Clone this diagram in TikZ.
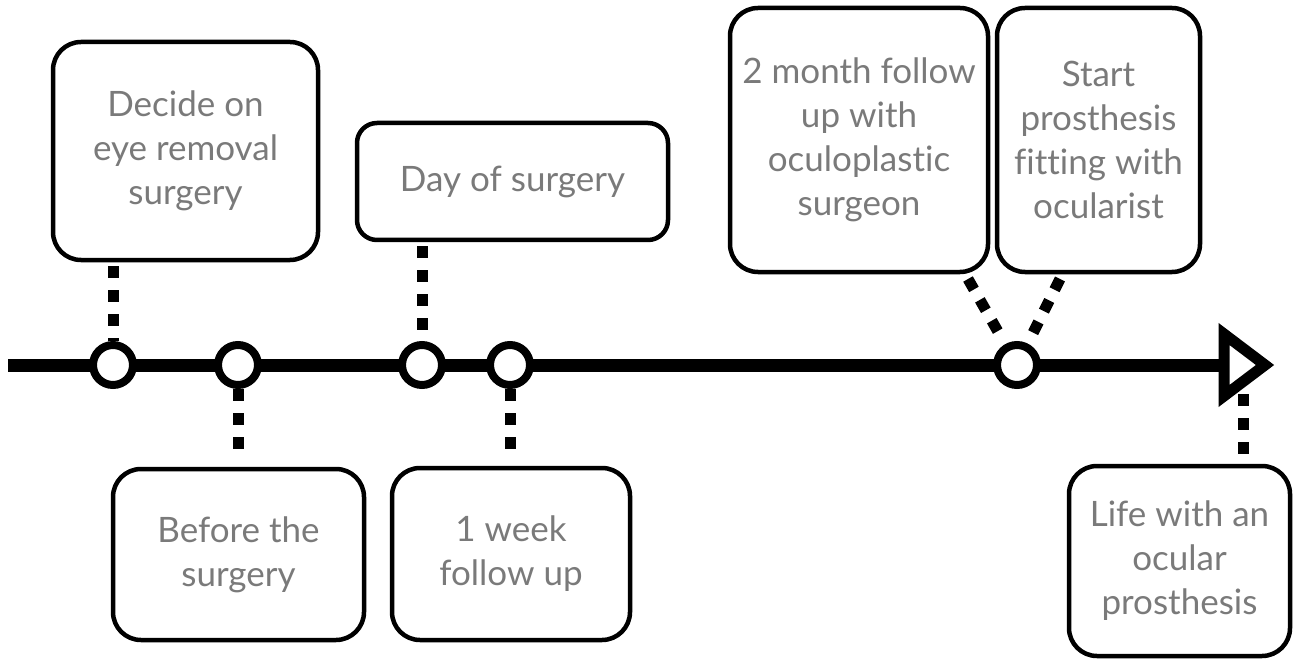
\documentclass[tikz,border=0pt]{standalone}
\usepackage{fontspec}
\setmainfont{Lato}[Ligatures=NoCommon]
\definecolor{txt}{RGB}{122,122,122}
\begin{document}
\begin{tikzpicture}[x=1pt,y=-1pt,
  box/.style={draw=black,line width=4.5pt,rounded corners=28pt,align=center,
    text=txt,font=\fontsize{35}{44}\selectfont,inner sep=0pt},
  dot/.style={circle,draw=black,line width=8pt,fill=white,minimum size=40pt,inner sep=0pt},
  conn/.style={line width=11pt,dash pattern=on 12pt off 12pt}]
\useasboundingbox (0,0) rectangle (1297,660);
% boxes
\node[box,minimum width=265pt,minimum height=218pt] (A) at (185.5,151) {Decide on\\eye removal\\surgery};
\node[box,minimum width=251pt,minimum height=171pt] (B) at (238.5,554.5) {Before the\\surgery};
\node[box,minimum width=311pt,minimum height=117pt,rounded corners=20pt] (C) at (512.5,181.5) {Day of surgery};
\node[box,minimum width=238pt,minimum height=172pt] (D) at (511,554) {1 week\\follow up};
\node[box,minimum width=258pt,minimum height=264pt] (E) at (859,140) {2 month follow\\up with\\oculoplastic\\surgeon};
\node[box,minimum width=203pt,minimum height=264pt] (F) at (1098.5,140) {Start\\prosthesis\\fitting with\\ocularist};
\node[box,minimum width=221pt,minimum height=190pt] (G) at (1179.5,561) {Life with an\\ocular\\prosthesis};
% timeline
\coordinate (start) at (8,365);
\coordinate (abase) at (1224,365);
\coordinate (atop) at (1224,334);
\coordinate (abot) at (1224,396);
\coordinate (atip) at (1265,365);
\draw[line width=13pt] (start) -- (abase);
\draw[line width=11pt,miter limit=10,line join=miter,fill=white] (atop) -- (atip) -- (abot) -- cycle;
% event dots
\node[dot] (c1) at (113,365) {};
\node[dot] (c2) at (238,365) {};
\node[dot] (c3) at (422,365) {};
\node[dot] (c4) at (510,365) {};
\node[dot] (c5) at (1017,365) {};
% connectors
\draw[conn,shorten <=4pt] (A.south -| c1) -- (c1.north);
\draw[conn,shorten >=6pt] (c2.south) -- (B.north -| c2);
\draw[conn,shorten <=4pt] (C.south -| c3) -- (c3.north);
\draw[conn,shorten >=6pt] (c4.south) -- (D.north -| c4);
\coordinate (e1) at (968,279);
\coordinate (f1) at (1060,279);
\draw[conn,shorten >=4pt] (e1) -- (c5);
\draw[conn,shorten >=4pt] (f1) -- (c5);
\coordinate (g1) at (1243,394);
\draw[conn,shorten >=2pt] (g1) -- (G.north -| g1);
\end{tikzpicture}
\end{document}
